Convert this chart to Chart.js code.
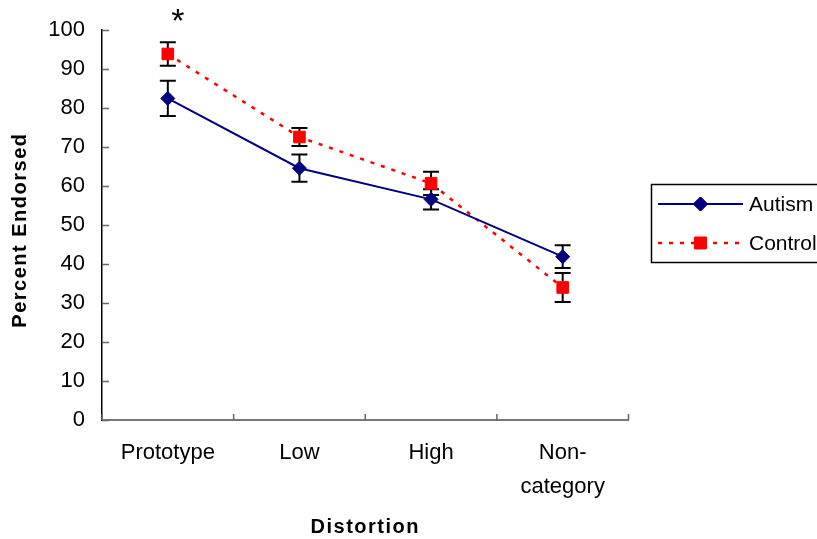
<!DOCTYPE html>
<html>
<head>
<meta charset="utf-8">
<script src="https://cdn.jsdelivr.net/npm/chart.js@4/dist/chart.umd.min.js"></script>
<style>
  html, body { margin: 0; padding: 0; background: #fff; overflow: hidden; }
  #wrap { width: 817px; height: 539px; }
</style>
</head>
<body>
<div id="wrap"><canvas id="endorsed"></canvas></div>
<script>
// values
var categories = [['Prototype'], ['Low'], ['High'], ['Non-', 'category']];
var autism = [82.5, 64.6, 56.6, 41.9];
var autismErr = [4.5, 3.5, 2.6, 2.9];
var control = [93.9, 72.6, 60.7, 34.0];
var controlErr = [3.0, 2.3, 3.0, 3.7];
var yTicks = [0, 10, 20, 30, 40, 50, 60, 70, 80, 90, 100];
var seriesNames = ['Autism', 'Control'];

var FONT = 'Arial, "Liberation Sans", sans-serif';

// error bars, drawn under the markers
var errorBars = {
  id: 'errorBars',
  beforeDatasetsDraw: function(chart) {
    var ctx = chart.ctx, y = chart.scales.y;
    ctx.save();
    ctx.strokeStyle = '#000';
    ctx.lineWidth = 2;
    chart.data.datasets.forEach(function(ds, di) {
      var meta = chart.getDatasetMeta(di);
      meta.data.forEach(function(pt, i) {
        var hi = y.getPixelForValue(ds.data[i] + ds.err[i]);
        var lo = y.getPixelForValue(ds.data[i] - ds.err[i]);
        ctx.beginPath();
        ctx.moveTo(pt.x, hi); ctx.lineTo(pt.x, lo);
        ctx.moveTo(pt.x - 8, hi); ctx.lineTo(pt.x + 8, hi);
        ctx.moveTo(pt.x - 8, lo); ctx.lineTo(pt.x + 8, lo);
        ctx.stroke();
      });
    });
    ctx.restore();
  }
};

// inside tick marks, axis titles, asterisk and the legend box
var decorations = {
  id: 'decorations',
  afterDraw: function(chart) {
    var ctx = chart.ctx, x = chart.scales.x, y = chart.scales.y, area = chart.chartArea;
    ctx.save();
    ctx.strokeStyle = '#666';
    ctx.lineWidth = 1.5;
    ctx.beginPath();
    y.ticks.forEach(function(t, i) {
      var py = Math.round(y.getPixelForTick(i)) + 0.5;
      ctx.moveTo(area.left, py); ctx.lineTo(area.left + 7, py);
    });
    for (var i = 0; i <= categories.length; i++) {
      var px = x.getPixelForValue(i - 0.5);
      ctx.moveTo(px, area.bottom); ctx.lineTo(px, area.bottom - 6);
    }
    ctx.stroke();

    // axis titles
    ctx.fillStyle = '#000';
    ctx.font = 'bold 20px ' + FONT;
    ctx.letterSpacing = '1.5px';
    ctx.textAlign = 'center';
    ctx.textBaseline = 'middle';
    ctx.fillText('Distortion', (area.left + area.right) / 2, 527);
    ctx.save();
    ctx.translate(20.5, (area.top + area.bottom) / 2 + 5);
    ctx.rotate(-Math.PI / 2);
    ctx.fillText('Percent Endorsed', 0, 0);
    ctx.restore();
    ctx.letterSpacing = '0px';

    // significance mark over the prototype
    var c0 = control[0] + controlErr[0];
    ctx.font = '34px ' + FONT;
    ctx.fillText('*', x.getPixelForValue(0) + 10, y.getPixelForValue(c0) - 20);

    // legend (runs off the right edge as in the original)
    ctx.strokeStyle = '#000';
    ctx.lineWidth = 1.5;
    ctx.strokeRect(651.5, 184.5, 200, 78);
    var rows = [204, 243];
    chart.data.datasets.forEach(function(ds, di) {
      var ly = rows[di];
      ctx.save();
      ctx.strokeStyle = ds.borderColor;
      ctx.lineWidth = ds.borderWidth;
      ctx.setLineDash(ds.borderDash || []);
      ctx.beginPath();
      ctx.moveTo(658, ly); ctx.lineTo(743, ly);
      ctx.stroke();
      ctx.restore();
      if (Chart.helpers && Chart.helpers.drawPoint) {
        ctx.fillStyle = ds.pointBackgroundColor;
        ctx.strokeStyle = ds.pointBorderColor;
        ctx.lineWidth = ds.pointBorderWidth;
        Chart.helpers.drawPoint(ctx, { pointStyle: ds.pointStyle, radius: ds.pointRadius, borderWidth: ds.pointBorderWidth }, 700.5, ly);
        ctx.fill();
        ctx.stroke();
      }
      ctx.fillStyle = '#000';
      ctx.font = '21px ' + FONT;
      ctx.textAlign = 'left';
      ctx.textBaseline = 'middle';
      ctx.fillText(ds.label, 749, ly + 1);
    });
    ctx.restore();
  }
};

var ctx = document.getElementById('endorsed').getContext('2d');
var chart = new Chart(ctx, {
  type: 'line',
  data: {
    labels: categories,
    datasets: [{
      label: seriesNames[0],
      data: autism,
      err: autismErr,
      borderColor: '#000080',
      borderWidth: 2,
      pointStyle: 'rectRot',
      pointRadius: 7,
      pointBackgroundColor: '#000080',
      pointBorderColor: '#000080',
      pointBorderWidth: 1,
      tension: 0
    }, {
      label: seriesNames[1],
      data: control,
      err: controlErr,
      borderColor: '#ff0000',
      borderWidth: 2.5,
      borderDash: [4, 7],
      pointStyle: 'rect',
      pointRadius: 8.2,
      pointBackgroundColor: '#ff0000',
      pointBorderColor: '#ff0000',
      pointBorderWidth: 1,
      tension: 0
    }]
  },
  options: {
    responsive: true,
    maintainAspectRatio: false,
    animation: false,
    events: [],
    layout: { padding: { top: 30, right: 188.5, bottom: 0, left: 0 } },
    plugins: {
      legend: { display: false },
      tooltip: { enabled: false },
      title: { display: false }
    },
    scales: {
      x: {
        type: 'category',
        offset: true,
        grid: { display: false, drawTicks: false },
        border: { display: true, color: '#777', width: 2 },
        ticks: {
          color: '#000',
          padding: 16,
          maxRotation: 0,
          autoSkip: false,
          font: { family: FONT, size: 22, lineHeight: 1.55 }
        },
        afterFit: function(scale) { scale.height = 119; }
      },
      y: {
        min: 0,
        max: 100,
        afterBuildTicks: function(scale) {
          scale.ticks = yTicks.map(function(v) { return { value: v }; });
        },
        grid: { display: false, drawTicks: false },
        border: { display: true, color: '#000', width: 1.5 },
        ticks: {
          color: '#000',
          padding: 17,
          font: { family: FONT, size: 22 }
        },
        afterFit: function(scale) { scale.width = 102; }
      }
    }
  },
  plugins: [errorBars, decorations]
});
</script>
</body>
</html>
